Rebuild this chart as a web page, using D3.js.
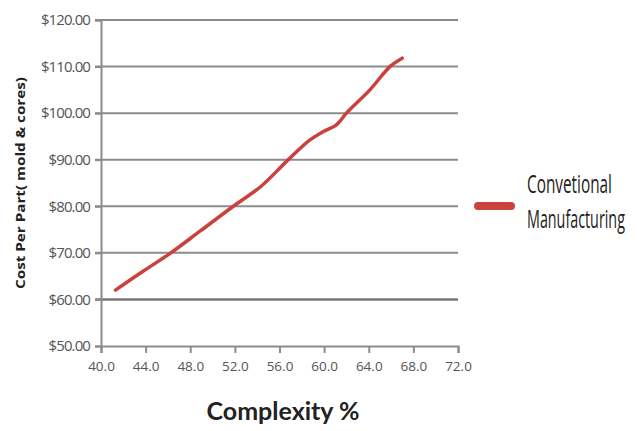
<!DOCTYPE html>
<html>
<head>
<meta charset="utf-8">
<script src="https://cdn.jsdelivr.net/npm/d3@7"></script>
<style>
  body { margin: 0; background: #fff; }
  .tick text { fill: #555; }
</style>
</head>
<body>
<svg class="chart"></svg>
<script>
// data
var complexity = [41.3, 43.8, 46.2, 48.9, 51.8, 54.3, 56.7, 58.7, 59.9, 61.1, 62.0, 64.1, 65.9, 67.0];
var cost = [62.0, 66.1, 69.9, 74.7, 79.9, 84.2, 89.8, 94.2, 96.0, 97.5, 100.0, 105.0, 110.0, 111.8];
var seriesName = ["Convetional", "Manufacturing"];
var yTicks = [50, 60, 70, 80, 90, 100, 110, 120];
var xTicks = [40, 44, 48, 52, 56, 60, 64, 68, 72];

function show() {
    'use strict';

    var width = 637, height = 431;
    var margin = { top: 20, left: 101, right: 179, bottom: 85 };

    var chart = d3.select(".chart")
        .attr("width", width)
        .attr("height", height);

    var x = d3.scaleLinear().domain([40, 72]).range([margin.left, width - margin.right]);
    var y = d3.scaleLinear().domain([50, 120]).range([height - margin.bottom, margin.top]);

    // gridlines
    chart.append("g")
        .selectAll("line").data(yTicks.slice(1)).enter().append("line")
        .attr("x1", margin.left - 6)
        .attr("x2", x(72))
        .attr("y1", d => y(d))
        .attr("y2", d => y(d))
        .attr("stroke", d => d === 60 ? "#777" : "#8c8c8c")
        .attr("stroke-width", d => d === 60 ? 2.5 : 2);

    // y axis
    var yAxis = chart.append("g")
        .attr("transform", "translate(" + margin.left + ",0)")
        .call(d3.axisLeft(y).tickValues(yTicks).tickSize(6).tickPadding(5)
            .tickFormat(d => "$" + d3.format(".2f")(d)));
    yAxis.select(".domain").attr("stroke", "#8c8c8c").attr("stroke-width", 2);
    yAxis.selectAll(".tick line").attr("stroke", "#8c8c8c").attr("stroke-width", 2);
    yAxis.selectAll(".tick text")
        .attr("font-family", "'Open Sans', sans-serif")
        .attr("font-size", 15)
        .attr("letter-spacing", -0.9);

    // x axis
    var xAxis = chart.append("g")
        .attr("transform", "translate(0," + y(50) + ")")
        .call(d3.axisBottom(x).tickValues(xTicks).tickSize(7).tickPadding(8)
            .tickFormat(d3.format(".1f")));
    xAxis.select(".domain").attr("stroke", "#8c8c8c").attr("stroke-width", 2);
    xAxis.selectAll(".tick line").attr("stroke", "#8c8c8c").attr("stroke-width", 2);
    xAxis.selectAll(".tick text")
        .attr("font-family", "'Open Sans', sans-serif")
        .attr("font-size", 13.5);

    // the line
    var line = d3.line()
        .x((d, i) => x(complexity[i]))
        .y(d => y(d))
        .curve(d3.curveCatmullRom);

    chart.append("path")
        .datum(cost)
        .attr("d", line)
        .attr("fill", "none")
        .attr("stroke", "#c9423e")
        .attr("stroke-width", 3.5)
        .attr("stroke-linecap", "round");

    // axis titles
    chart.append("text")
        .attr("transform", "translate(25,183) rotate(-90)")
        .attr("text-anchor", "middle")
        .attr("font-family", "'Open Sans', sans-serif")
        .attr("font-weight", "bold")
        .attr("font-size", 11.5)
        .attr("fill", "#222")
        .attr("textLength", 212)
        .attr("lengthAdjust", "spacingAndGlyphs")
        .text("Cost Per Part( mold & cores)");

    chart.append("text")
        .attr("x", 283)
        .attr("y", 420)
        .attr("text-anchor", "middle")
        .attr("font-family", "Lato, sans-serif")
        .attr("font-weight", "bold")
        .attr("font-size", 25)
        .attr("fill", "#222")
        .text("Complexity %");

    // legend
    chart.append("line")
        .attr("x1", 478).attr("x2", 511)
        .attr("y1", 206).attr("y2", 206)
        .attr("stroke", "#c9423e")
        .attr("stroke-width", 8)
        .attr("stroke-linecap", "round");

    // squeeze the legend text horizontally like the narrow original font
    var legendWidths = [85, 98];
    chart.selectAll(".legend-text").data(seriesName).enter().append("text")
        .attr("class", "legend-text")
        .attr("font-family", "'Open Sans', sans-serif")
        .attr("font-size", 25)
        .attr("fill", "#222")
        .text(d => d)
        .attr("transform", function (d, i) {
            var sx = legendWidths[i] / this.getComputedTextLength();
            return "translate(527," + (193 + i * 35) + ") scale(" + sx + ",1)";
        });
}
show();
</script>
</body>
</html>
